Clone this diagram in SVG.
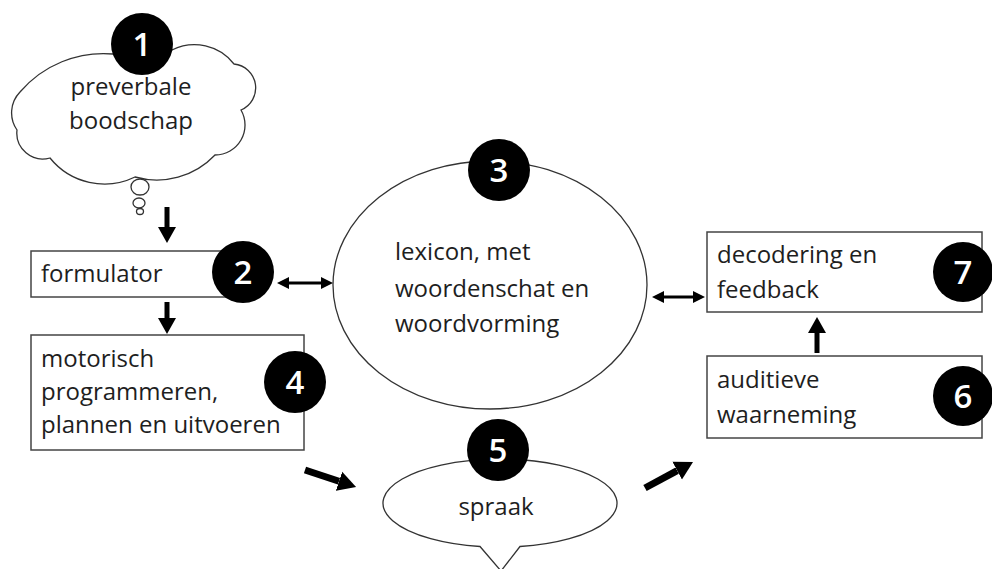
<svg xmlns="http://www.w3.org/2000/svg" width="992" height="569" viewBox="0 0 992 569">
<style>
.shape{fill:#fff;stroke:#333;stroke-width:1.3}
.box{fill:#fff;stroke:#444;stroke-width:1.5}
.t{font-family:"Open Sans","Liberation Sans",sans-serif;font-size:24px;fill:#1e1e1e}
.badge{fill:#000}
.num{font-family:"Open Sans","Liberation Sans",sans-serif;font-size:33px;font-weight:600;fill:#fff;text-anchor:middle}
.a1{stroke:#000;stroke-width:5;fill:none;marker-end:url(#hd)}
.a2{stroke:#000;stroke-width:3;fill:none;marker-start:url(#hs);marker-end:url(#hs)}
.a3{stroke:#000;stroke-width:7;fill:none;marker-end:url(#hb)}
</style>
<defs>
<marker id="hd" markerUnits="userSpaceOnUse" viewBox="0 -10 18 20" refX="0" refY="0" markerWidth="18" markerHeight="20" orient="auto"><path d="M0,-9 L16,0 L0,9 Z" fill="#000"/></marker>
<marker id="hs" markerUnits="userSpaceOnUse" viewBox="0 -7 13 14" refX="0" refY="0" markerWidth="13" markerHeight="14" orient="auto-start-reverse"><path d="M0,-6 L12,0 L0,6 Z" fill="#000"/></marker>
<marker id="hb" markerUnits="userSpaceOnUse" viewBox="0 -11 19 22" refX="0" refY="0" markerWidth="19" markerHeight="22" orient="auto"><path d="M0,-10 L18,0 L0,10 Z" fill="#000"/></marker>
</defs>
<rect width="992" height="569" fill="#fff"/>

<g id="n1">
<path class="shape" d="M20,92 A110 110 0 0 1 113,54 A40 40 0 0 1 172,50 A50 50 0 0 1 234,64 A24 24 0 0 1 241,110 A30 30 0 0 1 215,155 A80 80 0 0 1 135,177 A70 70 0 0 1 50,158 A26 26 0 0 1 17,130 A30 30 0 0 1 20,92 Z"/>
<ellipse class="shape" cx="140" cy="187" rx="9" ry="8"/>
<ellipse class="shape" cx="139" cy="203" rx="6" ry="5"/>
<ellipse class="shape" cx="140" cy="211.5" rx="3.5" ry="3"/>
<text class="t" x="131" y="95" text-anchor="middle">preverbale</text>
<text class="t" x="131" y="129" text-anchor="middle">boodschap</text>
<circle class="badge" cx="142" cy="44" r="31"/>
<text class="num" x="142" y="55.5">1</text>
</g>

<g id="n2">
<rect class="box" x="31" y="251" width="210" height="46"/>
<text class="t" x="41" y="282">formulator</text>
<circle class="badge" cx="243" cy="272" r="31"/>
<text class="num" x="243" y="283.5">2</text>
</g>

<g id="n4">
<rect class="box" x="31" y="335" width="273" height="115"/>
<text class="t" x="41" y="367">motorisch</text>
<text class="t" x="41" y="400">programmeren,</text>
<text class="t" x="41" y="433">plannen en uitvoeren</text>
<circle class="badge" cx="295" cy="382" r="31"/>
<text class="num" x="295" y="393.5">4</text>
</g>

<g id="n3">
<ellipse class="shape" cx="490" cy="285" rx="157" ry="124"/>
<text class="t" x="395" y="260">lexicon, met</text>
<text class="t" x="395" y="297">woordenschat en</text>
<text class="t" x="395" y="332">woordvorming</text>
<circle class="badge" cx="499" cy="170" r="31"/>
<text class="num" x="499" y="181.5">3</text>
</g>

<g id="n5">
<path class="shape" d="M480,546.5 A117 44 0 1 1 520,546.5 L501,571 Z"/>
<text class="t" x="496" y="515" text-anchor="middle">spraak</text>
<circle class="badge" cx="498" cy="450" r="31"/>
<text class="num" x="498" y="461.5">5</text>
</g>

<g id="n7">
<rect class="box" x="707" y="232" width="275" height="80"/>
<text class="t" x="717" y="263">decodering en</text>
<text class="t" x="717" y="298">feedback</text>
<circle class="badge" cx="963" cy="272" r="30"/>
<text class="num" x="963" y="283.5">7</text>
</g>

<g id="n6">
<rect class="box" x="707" y="356" width="275" height="82"/>
<text class="t" x="717" y="388">auditieve</text>
<text class="t" x="717" y="423">waarneming</text>
<circle class="badge" cx="963" cy="396" r="30"/>
<text class="num" x="963" y="407.5">6</text>
</g>

<g id="connectors">
<line class="a1" x1="167" y1="207" x2="167" y2="227"/>
<line class="a1" x1="167" y1="302" x2="167" y2="318"/>
<line class="a1" x1="817" y1="353" x2="817" y2="333"/>
<line class="a2" x1="289" y1="283" x2="321" y2="283"/>
<line class="a2" x1="664" y1="297" x2="693" y2="297"/>
<line class="a3" x1="305" y1="470" x2="339" y2="481.3"/>
<line class="a3" x1="645" y1="488" x2="677.2" y2="470.6"/>
</g>
</svg>
